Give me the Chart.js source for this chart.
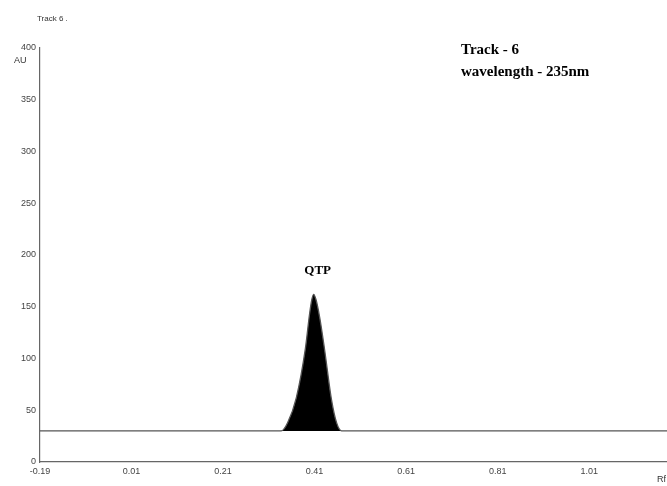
<!DOCTYPE html>
<html>
<head>
<meta charset="utf-8">
<script src="https://cdn.jsdelivr.net/npm/chart.js@4"></script>
<style>
  body { margin: 0; background: #fff; }
  #wrap { width: 667px; height: 486px; position: relative; }
</style>
</head>
<body>
<div id="wrap"><canvas id="densito" width="667" height="486"></canvas></div>
<script>
// Rf positions and absorbance (AU)
const rfValues = [-0.19, 0.337, 0.351, 0.370, 0.390, 0.399, 0.404, 0.408, 0.413, 0.421, 0.432, 0.447, 0.458, 0.469, 1.18];
const auValues = [30, 30, 38, 62, 110, 143, 157, 162, 157, 140, 108, 60, 38, 30, 30];
const xTickValues = [-0.19, 0.01, 0.21, 0.41, 0.61, 0.81, 1.01];
const yTickValues = [0, 50, 100, 150, 200, 250, 300, 350, 400];
const peakLabel = 'QTP';
const peakRf = 0.408;
const peakAu = 162;

const points = rfValues.map((x, i) => ({ x: x, y: auValues[i] }));

// draws the labels around the plot
const labelsPlugin = {
    id: 'labels',
    afterDraw(chart) {
        const ctx = chart.ctx;
        const xs = chart.scales.x, ys = chart.scales.y;
        ctx.save();
        ctx.fillStyle = '#333';
        ctx.font = '8px "Liberation Sans", Arial, sans-serif';
        ctx.textAlign = 'left';
        ctx.textBaseline = 'middle';
        ctx.fillText('Track 6 .', 37, 19);
        ctx.font = '9px "Liberation Sans", Arial, sans-serif';
        ctx.fillText('AU', 14, 61);
        ctx.fillText('Rf', 657, 480);

        ctx.fillStyle = '#000';
        ctx.font = 'bold 15px "Liberation Serif", "Times New Roman", serif';
        ctx.fillText('Track - 6', 461, 50);
        ctx.fillText('wavelength - 235nm', 461, 72);

        ctx.font = 'bold 13px "Liberation Serif", "Times New Roman", serif';
        ctx.textAlign = 'center';
        ctx.textBaseline = 'bottom';
        ctx.fillText(peakLabel, xs.getPixelForValue(peakRf) + 4, ys.getPixelForValue(peakAu) - 17);
        ctx.restore();
    }
};

new Chart(document.getElementById('densito'), {
    type: 'line',
    data: {
        datasets: [{
            data: points,
            borderColor: '#555',
            borderWidth: 1.3,
            backgroundColor: '#000',
            pointRadius: 0,
            cubicInterpolationMode: 'monotone',
            fill: { value: 30 }
        }]
    },
    options: {
        responsive: false,
        animation: false,
        layout: { padding: { top: 48, right: 0, left: 0, bottom: 0 } },
        plugins: { legend: { display: false }, tooltip: { enabled: false } },
        scales: {
            x: {
                type: 'linear',
                min: -0.19,
                max: 1.18,
                afterBuildTicks: axis => { axis.ticks = xTickValues.map(v => ({ value: v })); },
                afterFit: axis => { axis.height = 24; },
                grid: { display: false, drawTicks: true, tickLength: 3 },
                border: { color: '#666', width: 1.2 },
                ticks: {
                    color: '#444',
                    font: { size: 9, family: '"Liberation Sans", Arial, sans-serif' },
                    padding: 1,
                    maxRotation: 0,
                    callback: v => v.toFixed(2)
                }
            },
            y: {
                min: 0,
                max: 400,
                afterBuildTicks: axis => { axis.ticks = yTickValues.map(v => ({ value: v })); },
                afterFit: axis => { axis.width = 40; },
                grid: { display: false, drawTicks: true, tickLength: 3 },
                border: { color: '#666', width: 1.2 },
                ticks: {
                    color: '#444',
                    font: { size: 9, family: '"Liberation Sans", Arial, sans-serif' },
                    padding: 1
                }
            }
        }
    },
    plugins: [labelsPlugin]
});
</script>
</body>
</html>
